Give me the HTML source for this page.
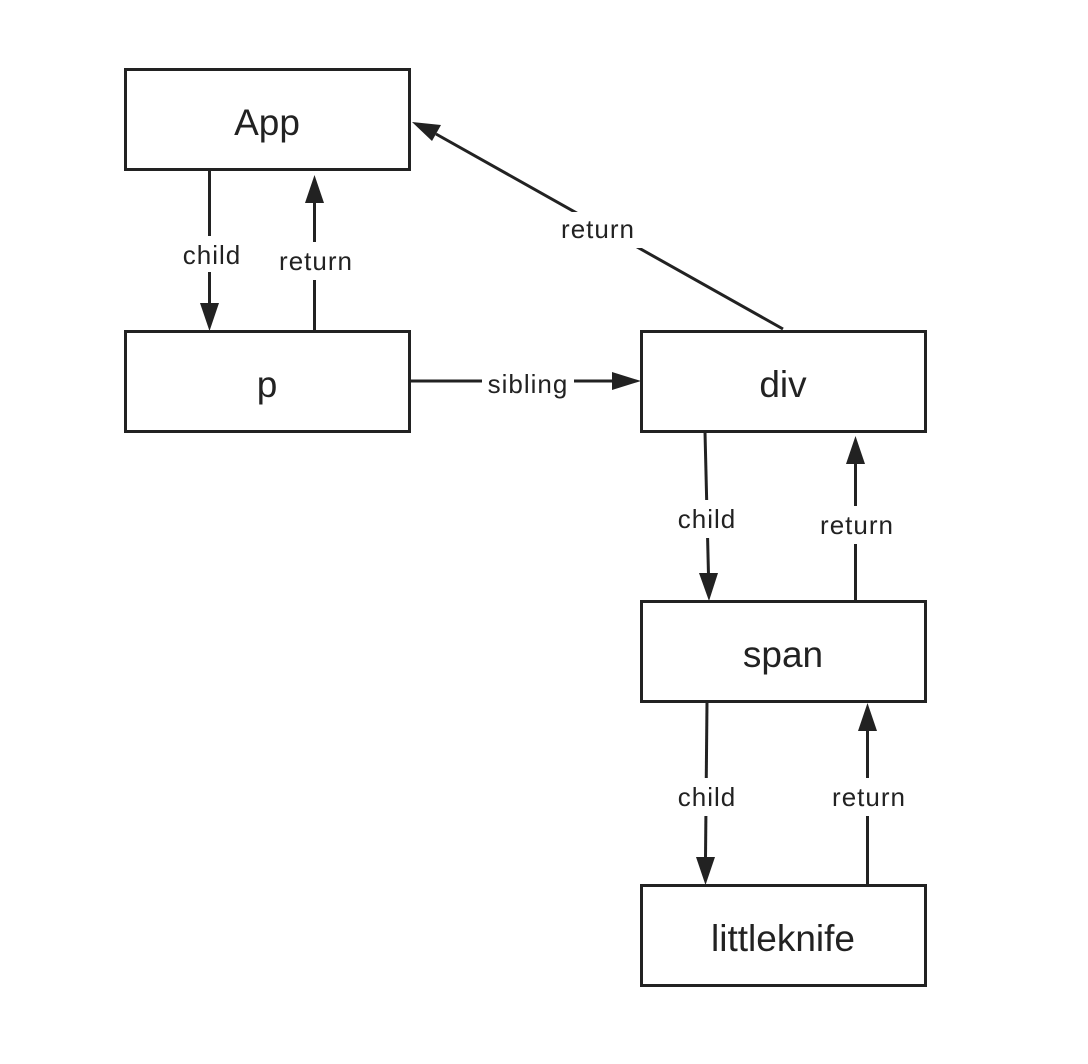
<!DOCTYPE html>
<html><head><meta charset="utf-8"><style>
html,body{margin:0;padding:0;background:#fff;}
svg{display:block;}
text{font-family:"Liberation Sans",sans-serif;fill:#222;}
</style></head><body>
<svg width="1088" height="1064" viewBox="0 0 1088 1064" xmlns="http://www.w3.org/2000/svg">
<g fill="none" stroke="#222" stroke-width="3">
<rect x="125.5" y="69.5" width="284" height="100"/>
<rect x="125.5" y="331.5" width="284" height="100"/>
<rect x="641.5" y="331.5" width="284" height="100"/>
<rect x="641.5" y="601.5" width="284" height="100"/>
<rect x="641.5" y="885.5" width="284" height="100"/>
<line x1="209.5" y1="170" x2="209.5" y2="305"/>
<line x1="314.5" y1="331" x2="314.5" y2="200"/>
<line x1="410" y1="381" x2="615" y2="381"/>
<line x1="783" y1="329" x2="436" y2="134"/>
<line x1="705" y1="432" x2="708.5" y2="575"/>
<line x1="855.5" y1="601" x2="855.5" y2="462"/>
<line x1="707" y1="702" x2="705.5" y2="858"/>
<line x1="867.5" y1="885" x2="867.5" y2="730"/>
</g>
<g fill="#222">
<polygon points="200,303 219,303 209.5,331"/>
<polygon points="305,203 324,203 314.5,175"/>
<polygon points="612,372 612,390 641,381"/>
<polygon points="412,122 441,125 432,141"/>
<polygon points="699,573 718,573 709,601"/>
<polygon points="846,464 865,464 855.5,436"/>
<polygon points="696,857 715,857 705.5,885"/>
<polygon points="858,731 877,731 867.5,703"/>
</g>
<g font-size="26" text-anchor="middle" letter-spacing="1">
<rect x="176" y="236" width="72" height="36" fill="#fff"/>
<text x="212" y="264">child</text>
<rect x="272" y="242" width="88" height="38" fill="#fff"/>
<text x="316" y="270">return</text>
<rect x="482" y="366" width="92" height="34" fill="#fff"/>
<text x="528" y="393">sibling</text>
<rect x="554" y="212" width="88" height="36" fill="#fff"/>
<text x="598" y="238">return</text>
<rect x="671" y="500" width="72" height="38" fill="#fff"/>
<text x="707" y="528">child</text>
<rect x="813" y="506" width="88" height="38" fill="#fff"/>
<text x="857" y="534">return</text>
<rect x="671" y="778" width="72" height="38" fill="#fff"/>
<text x="707" y="806">child</text>
<rect x="825" y="778" width="88" height="38" fill="#fff"/>
<text x="869" y="806">return</text>
</g>
<g font-size="37" text-anchor="middle">
<text x="267" y="135">App</text>
<text x="267" y="397">p</text>
<text x="783" y="397">div</text>
<text x="783" y="667">span</text>
<text x="783" y="951">littleknife</text>
</g>
</svg>
</body></html>
